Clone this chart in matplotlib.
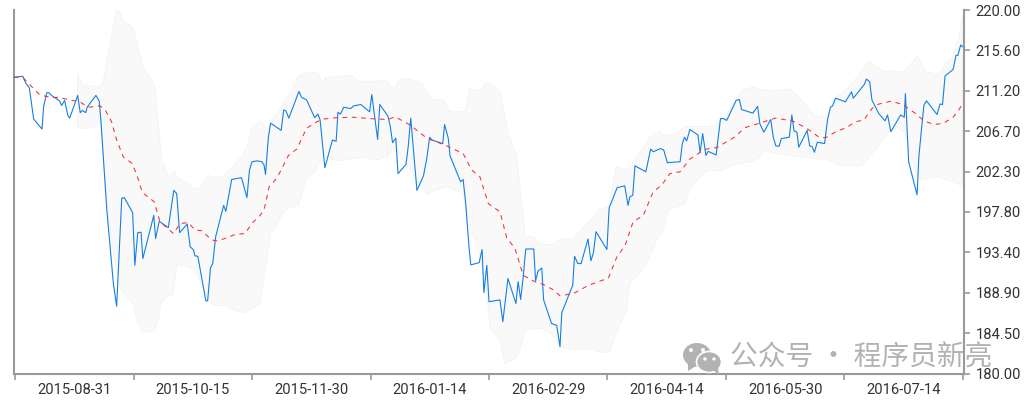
import numpy as np
from matplotlib import pyplot as plt
from matplotlib.patches import Ellipse, Polygon

plt.rcParams['font.family'] = ['Roboto', 'DejaVu Sans']

# x is in trading sessions since the start of the range
date_labels = ['2015-08-31', '2015-10-15', '2015-11-30', '2016-01-14',
               '2016-02-29', '2016-04-14', '2016-05-30', '2016-07-14']
y_tick_labels = ['180.00', '184.50', '188.90', '193.40', '197.80',
                 '202.30', '206.70', '211.20', '215.60', '220.00']

close_x = [0, 2.4, 3.3, 4.2, 5.4, 7.7, 8.15, 9, 9.6, 10.3, 12.5, 13.1, 13.9, 14.8, 15.3, 17.5, 18.2, 18.8, 19.7, 20.1,
           22.5, 23.4, 23.9, 25.5, 27.3, 28.2, 29.6, 30.3, 32.6, 33.2, 34, 34.9, 35.4, 38.4, 38.9, 39.9, 42.4, 43.9,
           44.7, 45.5, 47.6, 48.4, 49.3, 49.7, 50.5, 52.7, 53.2, 54, 54.6, 55.4, 57.6, 58.2, 59.8, 62.5, 64, 64.7,
           65.4, 66.8, 68.1, 68.7, 69.1, 69.9, 70.5, 73.4, 74.1, 74.7, 75.5, 78.3, 79, 80.4, 82.6, 83.5, 84.1, 85.4,
           87.5, 88.5, 89, 89.7, 90.6, 92.5, 93.3, 95.3, 97.7, 98.3, 99.9, 100.5, 102.7, 103.4, 104, 104.9, 105.5,
           107.7, 108.3, 109, 110.7, 112.5, 113.4, 114.2, 114.8, 117.8, 118.3, 119.3, 119.8, 122.7, 123.4, 124.1,
           125, 125.5, 127.8, 128.6, 129.1, 129.9, 130.5, 133.5, 134.3, 135.7, 137.9, 138.5, 139.2, 139.9, 140.6,
           142.8, 143.3, 144, 145, 145.5, 147.7, 149.1, 150, 150.5, 153.5, 154, 154.9, 155.8, 157.7, 158.5, 159.2,
           159.9, 162.9, 163.5, 165.7, 167.8, 168.7, 169.2, 170, 170.6, 173.6, 174.9, 175.6, 177.6, 178.5, 179.5,
           183, 183.6, 184.2, 184.8, 185.7, 187.9, 188.5, 189.2, 190.1, 190.7, 192.9, 194.1, 195, 195.8, 198.4,
           199.3, 199.9, 203, 204.3, 204.9, 206, 207.9, 208.6, 209.3, 210.2, 210.8, 213, 213.7, 214.3, 215.1, 215.6,
           217.9, 218.6, 219.3, 219.9, 220.7, 222.7, 223.5, 224.3, 224.9, 225.7, 228.4, 230.1, 230.6, 233.6, 234.2,
           235.1, 235.7, 237.6, 239.3, 240, 240.9, 243.6, 244.6, 244.9, 245.8, 248.1, 248.6, 249.3, 250, 250.7,
           253.6, 254.4, 255.1, 255.8, 258, 258.8, 259.3, 260.1, 260.7]
close_y = [212.6, 212.7, 211.9, 211.45, 208, 206.9, 209.4, 210.9, 210.9, 210.6, 210, 209.5, 210.05, 208.4, 208.1, 210.6,
           208.7, 208.95, 208.7, 209.3, 210.6, 210, 207.7, 198, 189.9, 187.4, 199.3, 199.35, 197.7, 191.9, 195.5,
           195.55, 192.65, 197.4, 194.85, 196.75, 196.05, 200.15, 199.8, 195.5, 196.45, 193.95, 193.6, 192.95, 192.9,
           188, 188, 191.65, 192.1, 195.05, 198.5, 197.85, 201.35, 201.55, 199.35, 202.4, 203.3, 203.4, 203.3, 202.95,
           201.9, 206.05, 207.55, 206.75, 209, 208.9, 208.1, 211.05, 210.4, 210.1, 208.15, 208.55, 207.9, 202.65,
           205.7, 205.55, 208.75, 208.55, 209.3, 209.15, 209.45, 209.6, 208.8, 210.7, 205.75, 209.6, 208.35, 207.15,
           205.4, 205.9, 202, 203, 204.95, 208.1, 200.15, 201.75, 203.65, 206, 205.7, 205.3, 207.4, 205.9, 203.95,
           201.1, 201.35, 198.7, 193.95, 191.95, 192.2, 193.65, 188.9, 191.9, 187.9, 188.1, 185.7, 190.45, 187.7,
           190.1, 188.15, 190.65, 193.7, 193.7, 190.2, 191.3, 191.6, 188.1, 185.5, 185.3, 182.95, 186.7, 189.7, 192.9,
           192.1, 192.1, 194.8, 192.4, 193.3, 195.6, 193.65, 198.2, 200.45, 200.65, 198.5, 199.45, 199.6, 202.85,
           202.2, 204.7, 204.4, 204.75, 204.6, 203.2, 203.3, 205.25, 206, 205.6, 206.85, 206.25, 204.3, 206.4, 204,
           204.45, 204.05, 208.05, 208.05, 207.85, 210.05, 210.15, 209.05, 208.65, 209.4, 207.5, 206.55, 207.95, 206,
           205.05, 205, 205.85, 206, 208.45, 206.7, 206.55, 204.9, 206.75, 205.05, 204.95, 204.35, 205.45, 205.3,
           207.9, 209.3, 209.45, 210.3, 209.9, 211, 210.3, 211.8, 212.4, 212.1, 210.1, 208.6, 207.8, 208.45, 206.6,
           208.45, 208.2, 210.8, 203.3, 199.65, 203.85, 206.8, 209.55, 210, 208.5, 209.65, 209.6, 212.75, 213.45, 215,
           215, 216.15, 215.95]

ma_x = [0, 2.4, 4.9, 7.1, 9.9, 12.6, 15.4, 18.1, 20.4, 23.6, 25, 26.8, 28.2, 30, 32.5, 33.9, 35.3, 38.5, 40.1, 43.8,
        45.6, 47.9, 49.7, 51.6, 54.3, 55.7, 58.4, 60.7, 63.5, 65.3, 67.6, 68.7, 70.1, 72.2, 73.4, 75.4, 77.7, 80.4,
        83.2, 85, 88.6, 93.2, 97.8, 102.8, 104.7, 108.8, 113.4, 118.9, 123.4, 125.7, 128, 130.3, 133.5, 135.4, 137.6,
        139.9, 143.1, 145.4, 148.2, 150, 153.7, 157.8, 163.3, 165.6, 167.9, 170.1, 172.9, 175.6, 177.9, 180.2, 183,
        185.7, 188.5, 190.3, 193, 195.8, 198.1, 200.8, 204.5, 206, 209.2, 213.8, 217.5, 221.2, 223, 226.2, 228.4,
        231.2, 233.5, 235.8, 237.6, 240.8, 244, 247.7, 250, 252.7, 255, 257.8, 259.6, 260.7]
ma_y = [212.6, 212.6, 211.55, 210.65, 210.4, 210.35, 210.1, 209.9, 209.3, 209.45, 209.05, 207.7, 205.7, 203.85, 203.1,
        201.65, 199.9, 198.9, 196.7, 195.4, 196.5, 196.6, 195.8, 195.7, 194.7, 194.6, 194.9, 195.3, 195.4, 196.5, 197.4,
        198, 200.55, 201.5, 202.4, 204, 204.7, 207, 207.7, 208, 208.15, 208.2, 208.05, 207.95, 208.25, 207.35, 205.9,
        205.05, 204.2, 202.4, 201.65, 198.7, 197.8, 194.9, 193.8, 190.8, 190.1, 189.8, 189.2, 188.55, 188.8, 189.7,
        190.5, 192.8, 194.1, 196.7, 197.4, 200, 200.7, 202, 202.2, 203.6, 204.35, 204.7, 204.85, 205.5, 206.05, 207.05,
        207.5, 207.7, 208.1, 207.8, 207.05, 206, 205.95, 206.7, 207, 207.7, 207.9, 209.2, 209.65, 209.95, 209.65, 208.6,
        207.8, 207.4, 207.5, 208.1, 209, 209.8]

upper_x = [17.5, 18.6, 20.1, 22.7, 23.6, 24.7, 25.9, 28.2, 28.9, 30.2, 32.8, 35.5, 38.6, 40.6, 42.4, 44, 44.7, 47.9, 49.7,
           51.1, 53.4, 55.7, 57.5, 60.7, 62.5, 64.4, 65.3, 67.6, 68.3, 69.4, 74.5, 76.7, 78.1, 80.9, 83.6, 84.8, 85.4,
           92.3, 94.6, 97.8, 102.4, 103.5, 104.9, 105.6, 107.9, 112, 114.7, 117.9, 119.8, 123.9, 125.3, 128.5, 129.4,
           130.8, 133.5, 134.6, 135.8, 138.1, 139.5, 140.4, 142.7, 145, 148.2, 150, 153.7, 156.4, 157.8, 159.6, 160.5,
           163.3, 165.4, 168.8, 171.1, 175.6, 177.5, 178.4, 181.6, 184.3, 186.6, 192.1, 195.8, 198.5, 200.4, 203.1,
           204.9, 208.3, 212.9, 215.2, 219.8, 223.4, 225.7, 230.3, 234.9, 239, 240.8, 244.5, 248.2, 250.5, 254.1, 255.9,
           257.8, 259.6, 260.7]
upper_y = [212.95, 211.9, 211.65, 211.65, 211.5, 212.5, 215.25, 219.9, 219.9, 218.7, 218, 213.6, 211.85, 203.5, 201.65,
           202.2, 201.6, 200.9, 200.3, 200.4, 201.8, 201.5, 201.65, 203.1, 203.85, 205.3, 207, 207.7, 207.6, 206.8, 210.1,
           211.4, 212.7, 213.2, 212.95, 211.9, 212.5, 212.85, 212.2, 212.1, 212.3, 211.5, 211.5, 212.3, 212.5, 212, 210.2,
           210.15, 208.8, 208.8, 211.3, 211.1, 211.9, 211.9, 211, 209, 206.4, 203.85, 198.7, 195.1, 195, 194.2, 194.2,
           194.8, 194.8, 196.1, 196.7, 197.25, 198, 198.35, 202.75, 202.4, 203.85, 206.4, 206.6, 206.2, 206.3, 207.15,
           207.2, 207.2, 208.45, 210.3, 211.3, 211.5, 211.3, 211.1, 211.3, 210.65, 208.45, 208.15, 210.3, 211.9, 214.4,
           213.2, 213.3, 213.15, 214.95, 213.2, 212.85, 214.15, 214.7, 217.1, 219.45]

lower_x = [17.5, 20, 22.7, 23.6, 25.5, 27.3, 29.3, 32.8, 33.5, 35.3, 38.5, 39.7, 40.4, 42.4, 43.6, 44.7, 47.4, 49.7, 52.9,
           54.8, 58.4, 60.3, 63.5, 65.3, 67.6, 70.5, 74.5, 75.8, 78.1, 80.4, 82.7, 84.1, 85.4, 88.6, 96, 100.1, 102.8,
           104.2, 107.9, 113.4, 115.2, 118.9, 123.4, 124.4, 128, 129.9, 130.8, 133.5, 134.9, 137.9, 139, 140.4, 145,
           148.2, 150, 152.7, 159.2, 160.5, 163.7, 166, 168.3, 169.2, 172, 173.8, 176.6, 178.4, 179.8, 184.3, 185.7,
           190.3, 194, 197.6, 203.1, 204.9, 206, 210.6, 215.6, 223.9, 226.2, 232.6, 235.4, 240, 241.3, 244.5, 248.2, 250,
           253.7, 258.3, 260.7]
lower_y = [207, 207, 207.2, 207.9, 199.1, 193.2, 189.2, 187.6, 186.2, 184.5, 184.7, 186.2, 187.8, 188.6, 188.6, 191.85,
           191.85, 191.45, 188.45, 187.5, 187.45, 187, 186.7, 187.15, 187.7, 195.4, 198, 198.3, 198.5, 201.5, 202.2, 203.5,
           203.9, 203.4, 203.8, 203.5, 204, 204.8, 202.95, 199.7, 200.1, 200.55, 199.8, 197.6, 192.8, 188.8, 184.95, 183.7,
           181.1, 181.65, 182.6, 184.8, 185, 184.2, 182.95, 182.7, 182.7, 182.35, 182.35, 185.1, 187, 189.9, 191.1, 192.1,
           194.7, 195.8, 198, 198.7, 200.4, 202.4, 202.3, 202.9, 203.4, 203.85, 204.5, 204.15, 203.9, 203.5, 203, 202.8, 204,
           206.4, 207.35, 206.6, 201.65, 201.3, 201.65, 201.1, 200.55]

fig = plt.figure(figsize=(10.24, 4), dpi=100)
ax = fig.add_axes([14 / 1024, 1 - 373.5 / 400, 950 / 1024, 363.5 / 400])

band_x = upper_x + lower_x[::-1]
band_y = upper_y + lower_y[::-1]
ax.fill(band_x, band_y, facecolor='#f9f9f9', edgecolor='#f3f3f3', linewidth=0.6, zorder=1)
ax.plot(close_x, close_y, color='#1580e2', linewidth=0.8, zorder=3)
ax.plot(ma_x, ma_y, color='#ff2a2a', linewidth=0.75, dashes=(4.5, 4.5), zorder=4)

ax.set_xlim(0, 261)
ax.set_ylim(180, 220)

ax.spines['top'].set_visible(False)
for side in ['left', 'right', 'bottom']:
    ax.spines[side].set_color('#999999')
    ax.spines[side].set_linewidth(1.5)

edges = np.linspace(0.3, 260.7, len(date_labels) + 1)
ax.set_xticks(edges)
ax.set_xticklabels([])
ax.set_xticks((edges[:-1] + edges[1:]) / 2, minor=True)
ax.set_xticklabels(date_labels, minor=True)
ax.tick_params(axis='x', which='major', length=4, width=1.2, color='#999999')
ax.tick_params(axis='x', which='minor', length=0, pad=7, labelsize=10.6, labelcolor='#333333')

ax.set_yticks(np.linspace(180, 220, len(y_tick_labels)))
ax.set_yticklabels(y_tick_labels)
ax.yaxis.tick_right()
ax.tick_params(axis='y', length=4, width=1.2, color='#999999', pad=4.5, labelsize=10.6, labelcolor='#333333')

# watermark, sits over the chart
over = fig.add_axes([0, 0, 1, 1], facecolor='none')
over.set_xlim(0, 1024)
over.set_ylim(400, 0)
over.axis('off')
grey = '#b2b2b2'
over.add_patch(Ellipse((697, 355), 28, 24, color=grey, lw=0))
over.add_patch(Polygon([[688, 363], [688, 371], [696, 366]], color=grey, lw=0))
over.add_patch(Ellipse((709, 362), 25, 21, facecolor=grey, edgecolor='white', lw=1.2))
over.add_patch(Polygon([[713, 370], [719, 375], [718, 367]], color=grey, lw=0))
for cx, cy, r in [(691, 350, 2), (703, 350, 2), (705, 359, 1.7), (714, 359, 1.7)]:
    over.add_patch(Ellipse((cx, cy), r * 2, r * 2, color='white', lw=0))
over.text(730, 358, '公众号 · 程序员新亮', color=grey, fontsize=20, va='center', ha='left',
          family=['Noto Sans CJK SC', 'DejaVu Sans'])

fig.savefig('out.png', dpi=100)
